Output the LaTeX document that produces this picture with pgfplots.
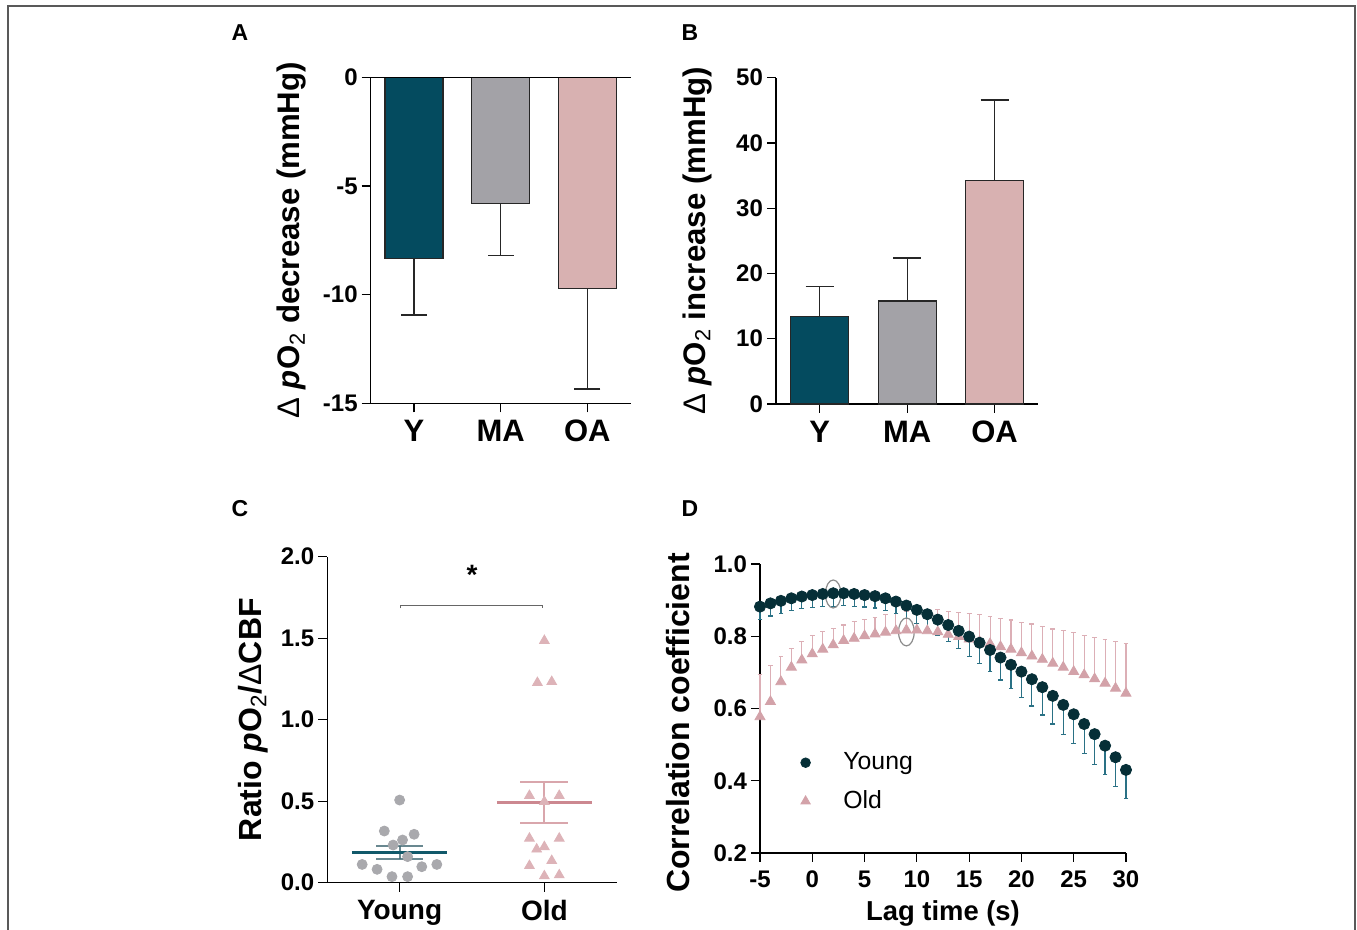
\documentclass[border=0pt]{standalone}
\usepackage{fontspec}
\setmainfont{Liberation Sans}
\usepackage{pgfplots}
\pgfplotsset{compat=1.18}

\definecolor{youngbar}{HTML}{044B5F}
\definecolor{mabar}{HTML}{A3A2A7}
\definecolor{oabar}{HTML}{D8B1B1}
\definecolor{ydot}{HTML}{062F37}
\definecolor{yerr}{HTML}{2A7185}
\definecolor{otri}{HTML}{D3A2A9}
\definecolor{oerr}{HTML}{DCAFB6}
\definecolor{cgray}{HTML}{A9A9AD}
\definecolor{ctri}{HTML}{DDB3B8}
\definecolor{cymean}{HTML}{11596A}
\definecolor{comean}{HTML}{CC8890}

\pgfplotsset{
  panel/.style={
    scale only axis,
    anchor=south west,
    axis x line*=bottom,
    axis y line*=left,
    axis line style={-, line width=0.6pt, black},
    tick align=outside,
    major tick length=4.5pt,
    every tick/.style={line width=0.6pt, black},
    tick label style={font=\fontsize{12}{14}\selectfont\bfseries},
    yticklabel style={xshift=1.5pt},
    label style={font=\fontsize{16}{19}\selectfont\bfseries},
    /pgf/number format/assume math mode=true,
    clip=false,
  },
  barpanel/.style={
    panel,
    xmin=-0.5, xmax=2.5,
    xtick={0,1,2}, xticklabels={Y,MA,OA},
    xticklabel style={font=\fontsize{15.5}{18}\selectfont\bfseries, yshift=-0.5pt},
    ybar, bar width=29pt, bar shift=0pt,
  },
}

\begin{document}
\begin{tikzpicture}
\useasboundingbox (0,0) rectangle (678.5pt,465pt);
% outer frame
\draw[black!65, line width=0.7pt] (4pt,-5pt) -- (4pt,462pt) -- (677.5pt,462pt) -- (677.5pt,-5pt);

% ---------- A ----------
\begin{axis}[barpanel,
  at={(185.35pt,263.35pt)}, width=130pt, height=163pt,
  ymin=-15, ymax=0,
  ytick={-15,-10,-5,0}, yticklabels={-15,-10,-5,0},
  ylabel={{\mdseries Δ} \textit{p}O\textsubscript{\mdseries 2} decrease (mmHg)},
  ylabel style={at={(axis description cs:-0.304,0.5)}, anchor=center, font=\fontsize{15.6}{18}\selectfont\bfseries},
]
\addplot[fill=youngbar, draw=black!85, line width=0.6pt,
  error bars/.cd, y dir=minus, y explicit,
  error bar style={line width=0.6pt, black!85},
  error mark options={rotate=90, mark size=6.5pt, line width=0.6pt, black!85}]
  coordinates {(0,-8.33) +- (0,2.61)};
\addplot[fill=mabar, draw=black!85, line width=0.6pt,
  error bars/.cd, y dir=minus, y explicit,
  error bar style={line width=0.6pt, black!85},
  error mark options={rotate=90, mark size=6.5pt, line width=0.6pt, black!85}]
  coordinates {(1,-5.80) +- (0,2.40)};
\addplot[fill=oabar, draw=black!85, line width=0.6pt,
  error bars/.cd, y dir=minus, y explicit,
  error bar style={line width=0.6pt, black!85},
  error mark options={rotate=90, mark size=6.5pt, line width=0.6pt, black!85}]
  coordinates {(2,-9.71) +- (0,4.63)};
\addplot[sharp plot, black, line width=0.6pt] coordinates {(-0.5,0) (2.5,0)};
\end{axis}

% ---------- B ----------
\begin{axis}[barpanel,
  at={(388pt,263pt)}, width=131.15pt, height=163.15pt,
  ymin=0, ymax=50,
  ytick={0,10,20,30,40,50},
  ylabel={{\mdseries Δ} \textit{p}O\textsubscript{\mdseries 2} increase (mmHg)},
  ylabel style={at={(axis description cs:-0.301,0.5)}, anchor=center, font=\fontsize{15.6}{18}\selectfont\bfseries},
]
\addplot[fill=youngbar, draw=black!85, line width=0.6pt,
  error bars/.cd, y dir=plus, y explicit,
  error bar style={line width=0.6pt, black!85},
  error mark options={rotate=90, mark size=7pt, line width=0.6pt, black!85}]
  coordinates {(0,13.38) +- (0,4.60)};
\addplot[fill=mabar, draw=black!85, line width=0.6pt,
  error bars/.cd, y dir=plus, y explicit,
  error bar style={line width=0.6pt, black!85},
  error mark options={rotate=90, mark size=7pt, line width=0.6pt, black!85}]
  coordinates {(1,15.78) +- (0,6.59)};
\addplot[fill=oabar, draw=black!85, line width=0.6pt,
  error bars/.cd, y dir=plus, y explicit,
  error bar style={line width=0.6pt, black!85},
  error mark options={rotate=90, mark size=7pt, line width=0.6pt, black!85}]
  coordinates {(2,34.22) +- (0,12.36)};
\end{axis}

% ---------- C ----------
\begin{axis}[panel,
  at={(163.65pt,23.65pt)}, width=144.7pt, height=163pt,
  xmin=-0.5, xmax=1.5, ymin=0, ymax=2,
  xtick={0,1}, xticklabels={Young,Old},
  xticklabel style={font=\fontsize{14}{17}\selectfont\bfseries, yshift=-0.8pt},
  ytick={0,0.5,1,1.5,2}, yticklabels={0.0,0.5,1.0,1.5,2.0},
  ylabel={Ratio \textit{p}O\textsubscript{\mdseries 2}/{\mdseries Δ}CBF},
  ylabel style={at={(axis description cs:-0.257,0.5)}, anchor=center},
]
\addplot[only marks, mark=*, mark size=2.5pt, color=cgray] coordinates {
  (0,0.507) (-0.106,0.317) (0.100,0.297) (0.020,0.262) (-0.045,0.231)
  (0.055,0.160) (-0.259,0.112) (-0.156,0.082) (0.153,0.098) (0.257,0.112)
  (-0.053,0.037) (0.055,0.037)
};
\addplot[only marks, mark=triangle*, mark size=2.8pt, color=ctri] coordinates {
  (1.0,1.485) (0.952,1.227) (1.051,1.233) (0.897,0.534) (1.103,0.534)
  (1.0,0.497) (0.897,0.272) (1.103,0.272) (0.947,0.205) (1.0,0.220)
  (0.897,0.104) (1.051,0.135) (1.0,0.041) (1.103,0.047)
};
% mean and SEM
\addplot[cymean!55!gray, opacity=0.8, line width=1.1pt] coordinates {(-0.16,0.227) (0.16,0.227)};
\addplot[cymean!55!gray, opacity=0.8, line width=1.1pt] coordinates {(-0.16,0.145) (0.16,0.145)};
\addplot[cymean!55!gray, opacity=0.8, line width=1.1pt] coordinates {(0,0.145) (0,0.227)};
\addplot[cymean, line width=1.5pt] coordinates {(-0.33,0.188) (0.33,0.188)};
\addplot[comean!75, line width=1.1pt] coordinates {(0.832,0.620) (1.161,0.620)};
\addplot[comean!75, line width=1.1pt] coordinates {(0.832,0.364) (1.161,0.364)};
\addplot[comean!75, line width=1.1pt] coordinates {(1,0.364) (1,0.620)};
\addplot[comean, line width=1.5pt] coordinates {(0.672,0.489) (1.327,0.489)};
% significance bracket
\addplot[black!60, line width=0.6pt] coordinates {(0.005,1.683) (0.005,1.703) (0.985,1.703) (0.985,1.683)};
\node[font=\fontsize{14}{16}\selectfont\bfseries] at (axis cs:0.5,1.89) {*};
\end{axis}

% ---------- D ----------
\begin{axis}[panel,
  at={(380pt,38.5pt)}, width=183pt, height=144.5pt,
  xmin=-5, xmax=30, ymin=0.2, ymax=1.0,
  xtick={-5,0,5,10,15,20,25,30}, xticklabels={-5,0,5,10,15,20,25,30},
  xticklabel style={yshift=-1pt},
  ytick={0.2,0.4,0.6,0.8,1.0}, yticklabels={0.2,0.4,0.6,0.8,1.0},
  xlabel={Lag time (s)},
  xlabel style={at={(axis description cs:0.5,-0.208)}, anchor=center, font=\fontsize{13.7}{16}\selectfont\bfseries},
  ylabel={Correlation coefficient},
  ylabel style={at={(axis description cs:-0.224,0.45)}, anchor=center},
  legend style={at={(axis description cs:0.094,0.245)}, anchor=west, draw=none, fill=none,
    font=\fontsize{12.4}{15}\selectfont, row sep=5pt, column sep=14.5pt},
  legend cell align=left,
]
\addlegendimage{only marks, mark=*, mark size=2.4pt, color=ydot}
\addlegendentry{Young}
\addlegendimage{only marks, mark=triangle*, mark size=2.7pt, color=otri}
\addlegendentry{Old}
% Old (mean, +SD)
\addplot[forget plot, only marks, mark=triangle*, mark size=2.9pt, color=otri,
  error bars/.cd, y dir=plus, y explicit,
  error bar style={line width=0.55pt, oerr},
  error mark options={rotate=90, mark size=1.2pt, line width=0.55pt, oerr}]
  table[x index=0, y index=1, y error index=2] {
-5 0.577 0.116
-4 0.619 0.101
-3 0.674 0.069
-2 0.714 0.053
-1 0.734 0.051
0 0.751 0.050
1 0.764 0.049
2 0.776 0.046
3 0.788 0.043
4 0.794 0.046
5 0.801 0.046
6 0.806 0.046
7 0.811 0.048
8 0.815 0.048
9 0.817 0.051
10 0.817 0.053
11 0.815 0.058
12 0.812 0.061
13 0.805 0.063
14 0.799 0.067
15 0.792 0.071
16 0.785 0.076
17 0.779 0.075
18 0.771 0.079
19 0.764 0.081
20 0.754 0.085
21 0.745 0.089
22 0.736 0.090
23 0.725 0.095
24 0.714 0.101
25 0.702 0.108
26 0.693 0.110
27 0.682 0.115
28 0.670 0.120
29 0.656 0.129
30 0.642 0.137
};
% Young (mean, -SD)
\addplot[forget plot, only marks, mark=*, mark size=2.8pt, color=ydot,
  error bars/.cd, y dir=minus, y explicit,
  error bar style={line width=0.6pt, yerr},
  error mark options={rotate=90, mark size=1.2pt, line width=0.6pt, yerr}]
  table[x index=0, y index=1, y error index=2] {
-5 0.882 0.035
-4 0.891 0.035
-3 0.898 0.034
-2 0.905 0.034
-1 0.910 0.034
0 0.914 0.034
1 0.917 0.035
2 0.919 0.036
3 0.919 0.035
4 0.917 0.034
5 0.914 0.033
6 0.911 0.033
7 0.905 0.033
8 0.896 0.034
9 0.885 0.035
10 0.873 0.037
11 0.861 0.040
12 0.846 0.043
13 0.831 0.046
14 0.815 0.048
15 0.799 0.054
16 0.782 0.057
17 0.762 0.060
18 0.741 0.062
19 0.721 0.065
20 0.702 0.071
21 0.681 0.074
22 0.659 0.077
23 0.635 0.078
24 0.610 0.081
25 0.584 0.080
26 0.557 0.081
27 0.529 0.083
28 0.497 0.080
29 0.465 0.080
30 0.430 0.079
};
\draw[black!45, line width=0.6pt] (axis cs:2,0.917) ellipse [x radius=3.9pt, y radius=7pt];
\draw[black!45, line width=0.6pt] (axis cs:9,0.812) ellipse [x radius=3.9pt, y radius=7pt];
\end{axis}

% panel letters
\node[font=\fontsize{11.5}{13}\selectfont\bfseries] at (120pt,448.5pt) {A};
\node[font=\fontsize{11.5}{13}\selectfont\bfseries] at (345pt,448.5pt) {B};
\node[font=\fontsize{11.5}{13}\selectfont\bfseries] at (120pt,210.5pt) {C};
\node[font=\fontsize{11.5}{13}\selectfont\bfseries] at (345pt,210.5pt) {D};
\end{tikzpicture}
\end{document}
